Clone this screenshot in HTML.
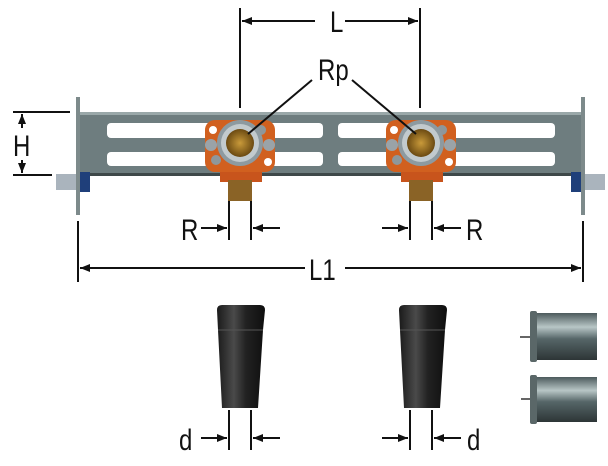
<!DOCTYPE html>
<html><head><meta charset="utf-8"><style>
body{margin:0;background:#fff;width:608px;height:461px;overflow:hidden}
text{font-family:"Liberation Sans",sans-serif;fill:#111}
</style></head><body>
<svg width="608" height="461" viewBox="0 0 608 461" xmlns="http://www.w3.org/2000/svg">
<defs>
<marker id="a" markerWidth="10" markerHeight="8" refX="10" refY="4" orient="auto" markerUnits="userSpaceOnUse"><path d="M0,0 L10,4 L0,8z" fill="#111"/></marker>
<linearGradient id="blk" x1="0" x2="1"><stop offset="0" stop-color="#1a1a1a"/><stop offset=".35" stop-color="#4a4a4a"/><stop offset=".6" stop-color="#222"/><stop offset="1" stop-color="#0e0e0e"/></linearGradient>
<linearGradient id="cyl" x1="0" y1="0" x2="0" y2="1"><stop offset="0" stop-color="#4c5a5c"/><stop offset=".3" stop-color="#b8c6c6"/><stop offset=".55" stop-color="#566668"/><stop offset="1" stop-color="#2d3536"/></linearGradient>
<radialGradient id="brass"><stop offset="0" stop-color="#c99a3a"/><stop offset="1" stop-color="#6b4a12"/></radialGradient>
</defs>
<g stroke="#111" stroke-width="2" fill="none">
<line x1="240" y1="8" x2="240" y2="108"/><line x1="420" y1="8" x2="420" y2="108"/>
<line x1="315" y1="21" x2="242" y2="21" marker-end="url(#a)"/><line x1="345" y1="21" x2="418" y2="21" marker-end="url(#a)"/>
<line x1="13" y1="112" x2="70" y2="112"/><line x1="13" y1="175" x2="52" y2="175"/>
<line x1="22" y1="128" x2="22" y2="114" marker-end="url(#a)"/><line x1="22" y1="160" x2="22" y2="173" marker-end="url(#a)"/>
<line x1="78" y1="221" x2="78" y2="282"/><line x1="583" y1="221" x2="583" y2="282"/>
<line x1="305" y1="268" x2="80" y2="268" marker-end="url(#a)"/><line x1="345" y1="268" x2="581" y2="268" marker-end="url(#a)"/>
<line x1="229" y1="200" x2="229" y2="240"/><line x1="251" y1="200" x2="251" y2="240"/>
<line x1="201" y1="228" x2="227" y2="228" marker-end="url(#a)"/><line x1="280" y1="228" x2="253" y2="228" marker-end="url(#a)"/>
<line x1="410" y1="200" x2="410" y2="240"/><line x1="432" y1="200" x2="432" y2="240"/>
<line x1="382" y1="228" x2="408" y2="228" marker-end="url(#a)"/><line x1="461" y1="228" x2="434" y2="228" marker-end="url(#a)"/>
<line x1="229" y1="410" x2="229" y2="450"/><line x1="251" y1="410" x2="251" y2="450"/>
<line x1="201" y1="438" x2="227" y2="438" marker-end="url(#a)"/><line x1="280" y1="438" x2="253" y2="438" marker-end="url(#a)"/>
<line x1="410" y1="410" x2="410" y2="450"/><line x1="432" y1="410" x2="432" y2="450"/>
<line x1="382" y1="438" x2="408" y2="438" marker-end="url(#a)"/><line x1="461" y1="438" x2="434" y2="438" marker-end="url(#a)"/>
</g>
<!-- bar -->
<rect x="80" y="112" width="503" height="64" fill="#6e7d7f"/>
<rect x="80" y="112" width="503" height="3" fill="#9aa8a9"/>
<rect x="80" y="173" width="503" height="3" fill="#3e4849"/>
<g fill="#fff">
<rect x="107" y="123" width="216" height="15" rx="4"/><rect x="107" y="152" width="216" height="14" rx="4"/>
<rect x="338" y="123" width="217" height="15" rx="4"/><rect x="338" y="152" width="217" height="14" rx="4"/>
</g>
<rect x="76" y="97" width="4" height="118" fill="#7d8a8b"/><rect x="581" y="97" width="4" height="118" fill="#7d8a8b"/>
<rect x="80" y="172" width="10" height="20" fill="#1f3f7a"/><rect x="571" y="172" width="10" height="20" fill="#1f3f7a"/>
<rect x="56" y="174" width="20" height="16" fill="#aab4bd"/><rect x="585" y="174" width="20" height="16" fill="#aab4bd"/>
<g id="f">
<rect x="220" y="160" width="42" height="22" fill="#c8541c"/>
<rect x="228" y="180" width="24" height="21" fill="#8a6326"/>
<rect x="205" y="120" width="70" height="52" rx="10" fill="#d1601f"/>
<circle cx="213" cy="130" r="4" fill="#fff"/><circle cx="268" cy="162" r="4" fill="#fff"/>
<circle cx="261" cy="130" r="5" fill="#8e979b"/><circle cx="216" cy="160" r="5" fill="#8e979b"/>
<circle cx="211" cy="145" r="6" fill="#9aa3a8"/><circle cx="269" cy="145" r="6" fill="#9aa3a8"/>
<circle cx="240" cy="143" r="23" fill="#8d9aa0"/><circle cx="240" cy="143" r="19" fill="#c2cacd"/>
<circle cx="240" cy="143" r="14" fill="url(#brass)"/>
</g>
<use href="#f" x="181"/>
<g stroke="#111" stroke-width="2"><line x1="312" y1="80" x2="248" y2="134"/><line x1="352" y1="80" x2="416" y2="134"/></g>
<g id="s"><path d="M217,310 Q217,305 222,305 L260,305 Q265,305 265,310 L263,330 L258,408 L222,408 L218,330Z" fill="url(#blk)"/><line x1="218" y1="330" x2="263" y2="330" stroke="#555"/></g>
<use href="#s" x="182"/>
<rect x="536" y="313" width="61" height="47" fill="url(#cyl)"/><rect x="530" y="311" width="7" height="51" rx="2" fill="#5a6768"/>
<rect x="536" y="377" width="61" height="45" fill="url(#cyl)"/><rect x="530" y="375" width="7" height="49" rx="2" fill="#5a6768"/>
<line x1="520" y1="337" x2="530" y2="337" stroke="#666" stroke-width="2"/><line x1="521" y1="399" x2="530" y2="399" stroke="#666" stroke-width="2"/>
<g font-size="30">
<text x="330" y="32" transform="translate(330 0) scale(.8 1) translate(-330 0)">L</text>
<text x="318" y="80" transform="translate(318 0) scale(.8 1) translate(-318 0)">Rp</text>
<text x="13" y="156" transform="translate(13 0) scale(.8 1) translate(-13 0)">H</text>
<text x="181" y="240" transform="translate(181 0) scale(.8 1) translate(-181 0)">R</text>
<text x="466" y="240" transform="translate(466 0) scale(.8 1) translate(-466 0)">R</text>
<text x="309" y="280" transform="translate(309 0) scale(.8 1) translate(-309 0)">L1</text>
<text x="179" y="450" transform="translate(179 0) scale(.8 1) translate(-179 0)">d</text>
<text x="467" y="450" transform="translate(467 0) scale(.8 1) translate(-467 0)">d</text>
</g>
</svg>
</body></html>
